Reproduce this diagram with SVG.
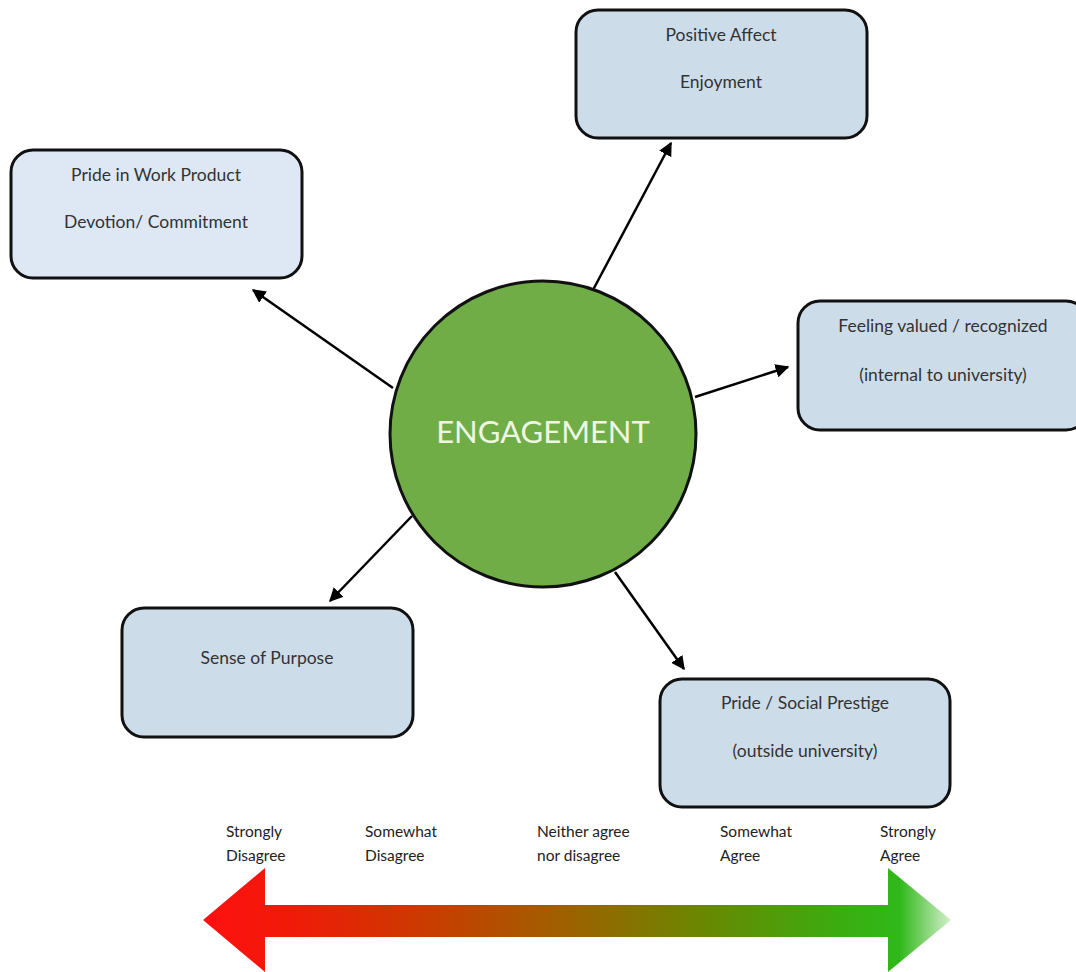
<svg xmlns="http://www.w3.org/2000/svg" width="1076" height="972" viewBox="0 0 1076 972">
<defs>
<style>
.box{fill:#cddce9;stroke:#111;stroke-width:3}
.box2{fill:#dde8f4;stroke:#111;stroke-width:3}
.t{font-family:Lato,"Open Sans",sans-serif;font-size:17.5px;fill:#333;text-anchor:middle}
.s{font-family:Lato,"Open Sans",sans-serif;font-size:15.5px;fill:#222}
.c{stroke:#000;stroke-width:2.5;fill:none;marker-end:url(#ah)}
</style>
<marker id="ah" viewBox="0 0 10 10" refX="9" refY="5" markerWidth="5.5" markerHeight="5.5" orient="auto" markerUnits="strokeWidth">
<path d="M0,0 L10,5 L0,10 z" fill="#000"/>
</marker>
<linearGradient id="g" x1="203" y1="0" x2="952" y2="0" gradientUnits="userSpaceOnUse">
<stop offset="0" stop-color="#ff1010"/>
<stop offset="0.12" stop-color="#f01a08"/>
<stop offset="0.3" stop-color="#c93c00"/>
<stop offset="0.5" stop-color="#9a6400"/>
<stop offset="0.65" stop-color="#6e8400"/>
<stop offset="0.85" stop-color="#3aad10"/>
<stop offset="0.93" stop-color="#30b81a"/>
<stop offset="1" stop-color="#d8f0d0"/>
</linearGradient>
</defs>
<rect width="1076" height="972" fill="#fff"/>
<g id="connectors">
<line class="c" x1="593" y1="290" x2="671" y2="143"/>
<line class="c" x1="393" y1="388" x2="253" y2="290"/>
<line class="c" x1="695" y1="397" x2="788" y2="367"/>
<line class="c" x1="412" y1="516" x2="330" y2="601"/>
<line class="c" x1="615" y1="572" x2="684" y2="669"/>
</g>
<g id="engagement">
<circle cx="543" cy="434" r="153" fill="#70ad47" stroke="#111" stroke-width="3"/>
<text x="543" y="443" font-family="Lato,'Open Sans',sans-serif" font-size="31" fill="#eef7e2" text-anchor="middle">ENGAGEMENT</text>
</g>
<g id="positive-affect">
<rect class="box" x="576" y="10" width="291" height="128" rx="22"/>
<text class="t" x="721" y="41">Positive Affect</text>
<text class="t" x="721" y="88">Enjoyment</text>
</g>
<g id="pride-work">
<rect class="box2" x="11" y="150" width="291" height="128" rx="22"/>
<text class="t" x="156" y="181">Pride in Work Product</text>
<text class="t" x="156" y="228">Devotion/ Commitment</text>
</g>
<g id="feeling-valued">
<rect class="box" x="798" y="301" width="290" height="129" rx="22"/>
<text class="t" x="943" y="332">Feeling valued / recognized</text>
<text class="t" x="943" y="381">(internal to university)</text>
</g>
<g id="sense-purpose">
<rect class="box" x="122" y="608" width="291" height="129" rx="22"/>
<text class="t" x="267" y="664">Sense of Purpose</text>
</g>
<g id="pride-social">
<rect class="box" x="660" y="679" width="290" height="128" rx="22"/>
<text class="t" x="805" y="709">Pride / Social Prestige</text>
<text class="t" x="805" y="757">(outside university)</text>
</g>
<g id="scale">
<path d="M203,920 L265,868 L265,905 L888,905 L888,868 L951,920 L888,972 L888,937 L265,937 L265,972 Z" fill="url(#g)"/>
<text class="s" x="226" y="837">Strongly</text>
<text class="s" x="226" y="861">Disagree</text>
<text class="s" x="365" y="837">Somewhat</text>
<text class="s" x="365" y="861">Disagree</text>
<text class="s" x="537" y="837">Neither agree</text>
<text class="s" x="537" y="861">nor disagree</text>
<text class="s" x="720" y="837">Somewhat</text>
<text class="s" x="720" y="861">Agree</text>
<text class="s" x="880" y="837">Strongly</text>
<text class="s" x="880" y="861">Agree</text>
</g>
</svg>
